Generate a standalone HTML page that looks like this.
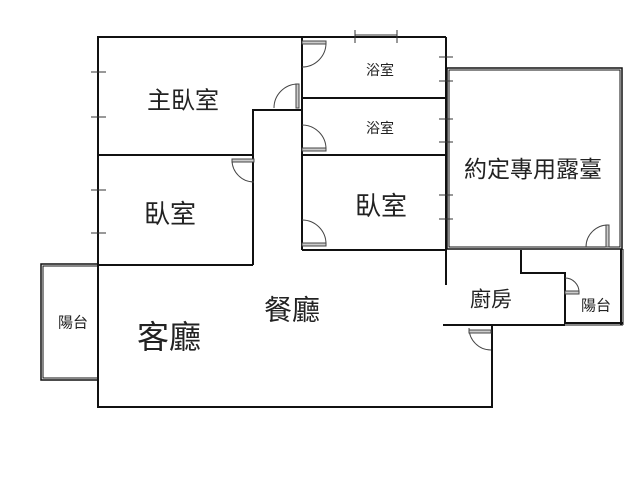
<!DOCTYPE html>
<html><head><meta charset="utf-8"><style>
html,body{margin:0;padding:0;background:#fff;width:640px;height:479px;overflow:hidden}
text{font-family:"Liberation Sans","Noto Sans CJK TC",sans-serif;fill:#222;text-anchor:middle;dominant-baseline:central}
</style></head><body>
<svg width="640" height="479" viewBox="0 0 640 479" xmlns="http://www.w3.org/2000/svg">
<g stroke="#111" stroke-width="2" fill="none">
<polyline points="98,265 98,37 446,37"/>
<line x1="98" y1="155" x2="253" y2="155"/>
<line x1="302" y1="37" x2="302" y2="250"/>
<polyline points="253,265 253,110 302,110"/>
<line x1="98" y1="265" x2="253" y2="265"/>
<line x1="302" y1="98" x2="446" y2="98"/>
<line x1="302" y1="155" x2="446" y2="155"/>
<line x1="302" y1="250" x2="446" y2="250"/>
<line x1="446" y1="37" x2="446" y2="285"/>
<rect x="447" y="68" width="175" height="181" stroke-width="1.5"/>
<rect x="449" y="70" width="171" height="177" stroke-width="1"/>
<polyline points="521,250 521,273 565,273 565,324"/>
<line x1="621" y1="249" x2="621" y2="325"/>
<line x1="623" y1="249" x2="623" y2="325" stroke-width="1"/>
<line x1="565" y1="323" x2="623" y2="323"/>
<line x1="565" y1="325" x2="623" y2="325" stroke-width="1"/>
<line x1="443" y1="325" x2="565" y2="325"/>
<polyline points="98,265 98,407 492,407 492,325"/>
<rect x="41" y="264" width="57" height="116" stroke-width="1.5"/>
<rect x="43" y="266" width="55" height="112" stroke-width="1"/>
</g>
<g stroke="#333" stroke-width="1">
<line x1="91" y1="72" x2="106" y2="72"/><line x1="91" y1="117" x2="106" y2="117"/>
<line x1="91" y1="190" x2="106" y2="190"/><line x1="91" y1="233" x2="106" y2="233"/>
<line x1="355" y1="30" x2="355" y2="43"/><line x1="397" y1="30" x2="397" y2="43"/><line x1="355" y1="35" x2="397" y2="35"/>
<line x1="439" y1="57" x2="453" y2="57"/><line x1="439" y1="81" x2="453" y2="81"/>
<line x1="439" y1="119" x2="453" y2="119"/><line x1="439" y1="142" x2="453" y2="142"/>
<line x1="439" y1="195" x2="453" y2="195"/><line x1="439" y1="219" x2="453" y2="219"/>
</g>
<g stroke="#444" stroke-width="1" fill="none">
<path d="M302,67 A24,24 0 0 0 326,43"/><rect x="302" y="41" width="24" height="3" fill="#ccc"/>
<path d="M274,108 A24,24 0 0 1 298,84"/><rect x="296" y="84" width="3" height="24" fill="#ccc"/>
<path d="M302,125 A24,24 0 0 1 326,149"/><rect x="302" y="148" width="24" height="3" fill="#ccc"/>
<path d="M232,160 A22,22 0 0 0 254,182"/><rect x="232" y="159" width="22" height="3" fill="#ccc"/>
<path d="M302,220 A24,24 0 0 1 326,244"/><rect x="302" y="243" width="24" height="3" fill="#ccc"/>
<path d="M586,247 A22,22 0 0 1 608,225"/><rect x="606" y="225" width="3" height="22" fill="#ccc"/>
<path d="M565,278 A14,14 0 0 1 579,292"/><rect x="565" y="291" width="14" height="3" fill="#ccc"/>
<path d="M469,328 A22,22 0 0 0 491,350"/><rect x="469" y="330" width="22" height="3" fill="#ccc"/>
</g>
<text x="183" y="101" font-size="24">主臥室</text>
<text x="380" y="70" font-size="14">浴室</text>
<text x="380" y="128" font-size="14">浴室</text>
<text x="170" y="214" font-size="26">臥室</text>
<text x="381" y="206" font-size="26">臥室</text>
<text x="533" y="169" font-size="23">約定專用露臺</text>
<text x="292" y="310" font-size="28">餐廳</text>
<text x="169" y="337" font-size="32">客廳</text>
<text x="491" y="300" font-size="21">廚房</text>
<text x="73" y="323" font-size="15">陽台</text>
<text x="596" y="306" font-size="15">陽台</text>
</svg>
</body></html>
